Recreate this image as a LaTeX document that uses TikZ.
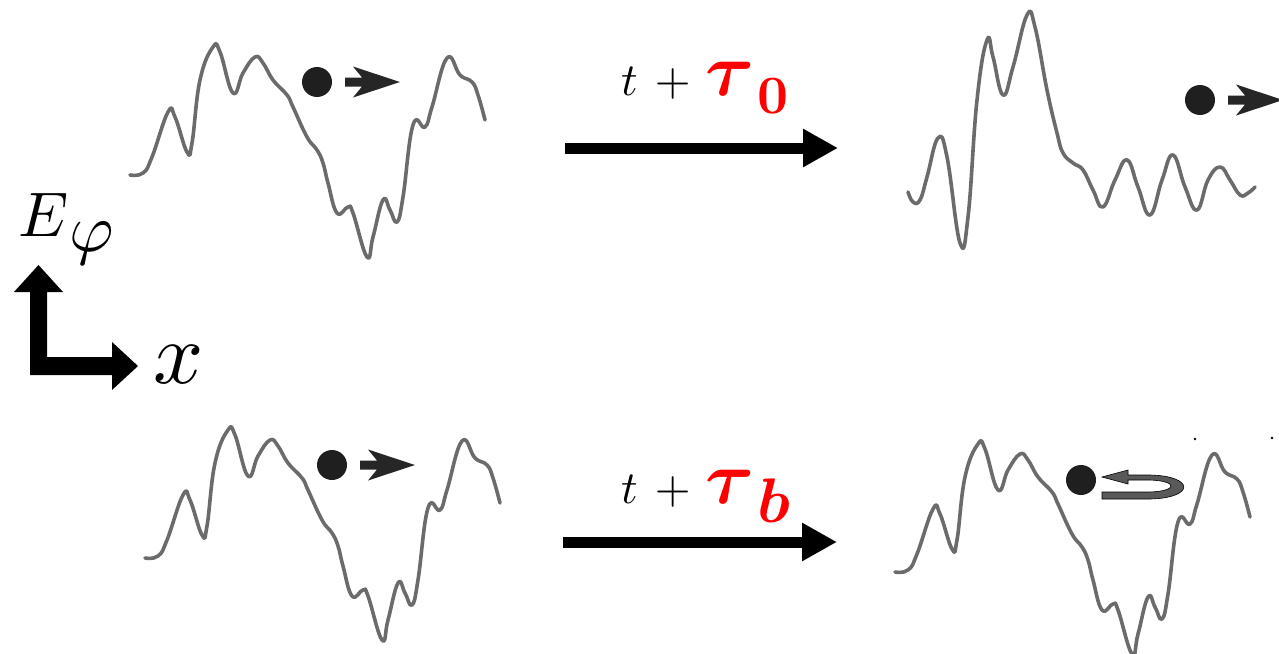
\documentclass[tikz,border=0pt]{standalone}
\usepackage{amsmath,bm}
\usepackage{graphicx}
\usetikzlibrary{arrows.meta}
\begin{document}
\begin{tikzpicture}[x=1pt,y=-1pt,
  wave/.style={draw=black!58, line width=3.6pt, line join=round, line cap=round},
  ball/.style={circle, fill=black!88, inner sep=0pt, minimum size=30pt},
  bigarrow/.style={line width=11pt, -{Triangle[length=35pt,width=36pt]}},
  fwdarrow/.pic={\fill[black!85] (0,-4.5) -- (17,-4.5) -- (8,-15.5) -- (55,0) -- (8,15.5) -- (17,4.5) -- (0,4.5) -- cycle;}
]
\useasboundingbox (0,0) rectangle (1279,653);
\clip (0,0) rectangle (1279,653);

\def\wavepath{plot[smooth, tension=0.75] coordinates {
 (130,175) (143,173) (152,157) (168,112) (175,117) (187,152) (192,143) (200,80)
 (213,47) (220,52) (233,93) (243,73) (255,57) (263,63) (273,80) (287,95) (293,107)
 (307,137) (317,150) (323,163) (328,183) (337,213) (348,207) (353,213) (367,257)
 (373,237) (383,200) (390,210) (397,222) (403,197) (413,125) (425,127) (432,107)
 (447,58) (460,75) (472,82) (478,95) (485,120)}}

% top-left wave
\draw[wave] \wavepath;
\node[ball] (b1) at (317,82) {};
\pic at (345,82) {fwdarrow};

% bottom-left wave
\begin{scope}[shift={(15,383)}]
\draw[wave] \wavepath;
\end{scope}
\node[ball] (b3) at (332,465) {};
\pic at (360,465) {fwdarrow};

% bottom-right wave
\begin{scope}[shift={(765,397)}]
\draw[wave] \wavepath;
\end{scope}
\node[ball] (b4) at (1081,480) {};
\fill[black!65, draw=black, line width=0.6pt]
 (1102,499) -- (1150,499) .. controls (1195,498) and (1195,476) .. (1150,475)
 -- (1128,475) -- (1128,470) -- (1102,477) -- (1128,484) -- (1128,480) -- (1150,480)
 .. controls (1178,481) and (1178,491) .. (1150,492) -- (1102,492) -- cycle;
\fill (1195,439) circle (1.3pt);
\fill (1272,438) circle (1.3pt);

% top-right wave
\draw[wave] plot[smooth, tension=0.75] coordinates {
 (908,192) (913,202) (920,200) (927,177) (938,138) (947,157) (960,243) (968,217)
 (977,100) (987,40) (993,57) (1003,95) (1013,67) (1027,15) (1035,27) (1047,90)
 (1057,133) (1063,153) (1073,163) (1083,170) (1093,190) (1103,207) (1115,180)
 (1127,160) (1138,187) (1150,215) (1162,180) (1173,155) (1185,187) (1197,210)
 (1208,180) (1220,167) (1230,180) (1240,195) (1248,193) (1255,187)};
\node[ball] (b2) at (1200,100) {};
\pic at (1228,100) {fwdarrow};

% middle arrows
\coordinate (a1s) at (565,148);
\coordinate (a1e) at (838,148);
\draw[bigarrow] (a1s) -- (a1e);
\coordinate (a2s) at (563,542);
\coordinate (a2e) at (837,542);
\draw[bigarrow] (a2s) -- (a2e);

\node[anchor=base west, inner sep=0pt] (lab0) at (621,95)
 {\scalebox{4.6}{$t$}\hspace{17pt}\scalebox{4.6}{$+$}\hspace{15pt}\textcolor{red}{\scalebox{7.5}{$\bm{\tau}$}\hspace{3pt}\raisebox{-18pt}{\scalebox{5.4}{$\mathbf{0}$}}}};
\node[anchor=base west, inner sep=0pt] (labb) at (621,503)
 {\scalebox{4.6}{$t$}\hspace{17pt}\scalebox{4.6}{$+$}\hspace{15pt}\textcolor{red}{\scalebox{7.5}{$\bm{\tau}$}\hspace{3pt}\raisebox{-19pt}{\scalebox{6.3}{$\bm{b}$}}}};

% axes
\fill (30,375) -- (30,292) -- (14,292) -- (38.5,265) -- (63,292) -- (47,292) -- (47,357)
 -- (112,357) -- (112,342) -- (138,366) -- (112,390) -- (112,375) -- cycle;
\node[anchor=base west, inner sep=0pt] (E) at (18,236)
 {\scalebox{6.3}{$E$}\hspace{1pt}\raisebox{-15pt}{\scalebox{6.8}{$\varphi$}}};
\node[anchor=base west, inner sep=0pt] (X) at (153,383) {\scalebox{8.8}{$x$}};
\end{tikzpicture}
\end{document}
